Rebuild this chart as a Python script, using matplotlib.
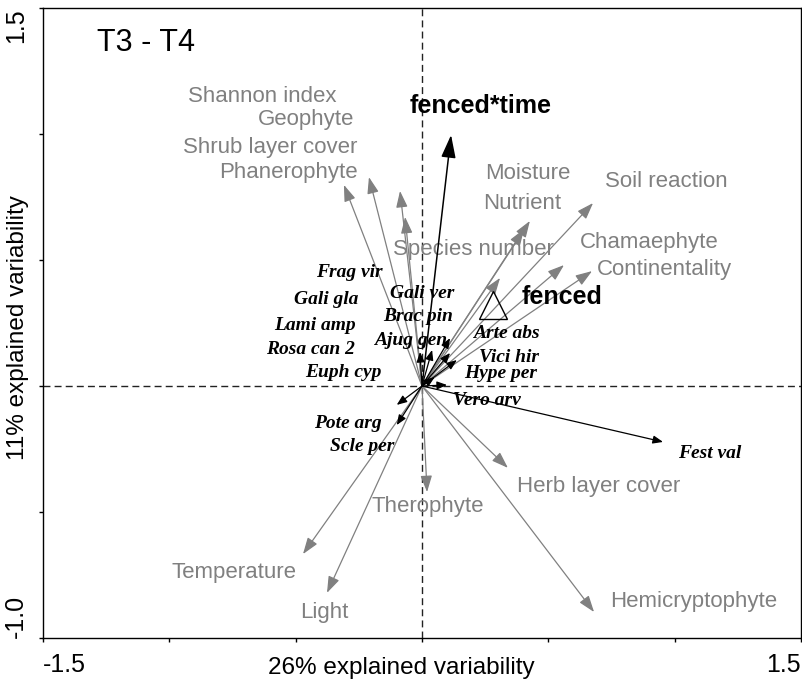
import matplotlib
matplotlib.use("Agg")
import matplotlib.pyplot as plt

# explanatory / supplementary variables (arrow tips, axis 1 & 2 scores)
env_names = ["Phanerophyte", "Shrub layer cover", "Geophyte", "Shannon index",
             "Moisture", "Nutrient", "Soil reaction", "Species number",
             "Chamaephyte", "Continentality", "Therophyte", "Herb layer cover",
             "Temperature", "Light", "Hemicryptophyte"]
env_x = [-0.309, -0.210, -0.087, -0.067, 0.427, 0.404, 0.677, 0.309,
         0.562, 0.673, 0.020, 0.340, -0.471, -0.376, 0.681]
env_y = [0.798, 0.829, 0.774, 0.671, 0.655, 0.623, 0.726, 0.429,
         0.480, 0.456, -0.421, -0.325, -0.667, -0.821, -0.897]

# label anchors for the variables (data units) and alignment
env_lab_x = [-0.253, -0.257, -0.269, -0.340, 0.419, 0.396, 0.724, -0.115,
             0.625, 0.693, 0.024, 0.376, -0.495, -0.483, 0.744]
env_lab_y = [0.849, 0.948, 1.056, 1.147, 0.845, 0.726, 0.813, 0.540,
             0.571, 0.464, -0.480, -0.397, -0.742, -0.897, -0.857]
env_lab_ha = ["right", "right", "right", "right", "center", "center", "left", "left",
              "left", "left", "center", "left", "right", "left", "left"]

# species arrows
spe_arrow_names = ["Gali ver", "Brac pin", "Ajug gen", "Arte abs", "Vici hir",
                   "Hype per", "Vero arv", "Pote arg", "Scle per", "Fest val"]
spe_x = [0.111, 0.040, -0.008, 0.111, 0.138, 0.099, 0.050, -0.100, -0.100, 0.954]
spe_y = [0.190, 0.143, 0.135, 0.131, 0.103, 0.004, 0.035, -0.075, -0.155, -0.222]

# species labels
spe_names = ["Frag vir", "Gali gla", "Lami amp", "Rosa can 2", "Euph cyp",
             "Gali ver", "Brac pin", "Ajug gen", "Arte abs", "Vici hir",
             "Hype per", "Vero arv", "Pote arg", "Scle per", "Fest val"]
spe_lab_x = [-0.419, -0.507, -0.586, -0.617, -0.463, -0.127, -0.154, -0.190,
             0.202, 0.226, 0.166, 0.123, -0.427, -0.364, 1.013]
spe_lab_y = [0.452, 0.345, 0.242, 0.143, 0.052, 0.369, 0.274, 0.179,
             0.210, 0.115, 0.048, -0.056, -0.147, -0.242, -0.266]

# treatment terms
fenced_time_xy = (0.115, 0.996)
fenced_xy = (0.281, 0.321)

grey = "#808080"
plt.rcParams["font.family"] = ["Liberation Sans", "DejaVu Sans"]

fig = plt.figure(figsize=(8.03, 6.86), dpi=100)
ax = fig.add_axes([43 / 803, 1 - 638 / 686, 758 / 803, 630 / 686])
ax.set_xlim(-1.5, 1.5)
ax.set_ylim(-1.0, 1.5)

ax.axhline(0, color="#222222", lw=1, ls=(0, (5, 3)), zorder=1)
ax.axvline(0, color="#222222", lw=1, ls=(0, (5, 3)), zorder=1)

for x, y in zip(env_x, env_y):
    ax.annotate("", xy=(x, y), xytext=(0, 0),
                arrowprops=dict(arrowstyle="-|>,head_length=1.0,head_width=0.35",
                                mutation_scale=10, color=grey, lw=0.9,
                                shrinkA=0, shrinkB=0), zorder=2)
for name, x, y, ha in zip(env_names, env_lab_x, env_lab_y, env_lab_ha):
    ax.text(x, y, name, color=grey, fontsize=16, ha=ha, va="center", zorder=3)

for name, x, y in zip(spe_names, spe_lab_x, spe_lab_y):
    ax.text(x, y, name, family="Liberation Serif", fontweight="bold",
            fontstyle="italic", fontsize=14, ha="left", va="center", zorder=4)
for x, y in zip(spe_x, spe_y):
    ax.annotate("", xy=(x, y), xytext=(0, 0),
                arrowprops=dict(arrowstyle="-|>,head_length=1.0,head_width=0.4",
                                mutation_scale=6, color="black", lw=0.9,
                                shrinkA=0, shrinkB=0), zorder=5)

ax.annotate("", xy=fenced_time_xy, xytext=(0, 0),
            arrowprops=dict(arrowstyle="-|>,head_length=1.0,head_width=0.32",
                            mutation_scale=14, color="black", lw=1.1,
                            shrinkA=0, shrinkB=0), zorder=5)
ax.text(-0.047, 1.111, "fenced*time", fontsize=18, fontweight="bold",
        ha="left", va="center")
ax.plot(*fenced_xy, marker="^", ms=20, mfc="none", mec="black", mew=1, zorder=4)
ax.text(0.396, 0.353, "fenced", fontsize=18, fontweight="bold", ha="left", va="center")

ax.text(-1.286, 1.361, "T3 - T4", fontsize=22, ha="left", va="center")

xt = [-1.5, -1.0, -0.5, 0.0, 0.5, 1.0, 1.5]
yt = [-1.0, -0.5, 0.0, 0.5, 1.0, 1.5]
ax.set_xticks(xt)
ax.set_xticklabels(["-1.5", "", "", "", "", "", "1.5"], fontsize=18)
ax.set_yticks(yt)
ax.set_yticklabels(["-1.0", "", "", "", "", "1.5"], fontsize=18, rotation=90)
ax.tick_params(direction="out", length=3, width=1, pad=8)
xl = ax.get_xticklabels()
xl[0].set_ha("left")
xl[-1].set_ha("right")
yl = ax.get_yticklabels()
yl[0].set_va("bottom")
yl[-1].set_va("top")
for s in ax.spines.values():
    s.set_linewidth(1)

fig.text(401 / 803, 1 - 668 / 686, "26% explained variability", fontsize=17.5,
         ha="center", va="center")
fig.text(18.5 / 803, 1 - 328 / 686, "11% explained variability", fontsize=17.5,
         ha="center", va="center", rotation=90)

fig.savefig("out.png", dpi=100)
